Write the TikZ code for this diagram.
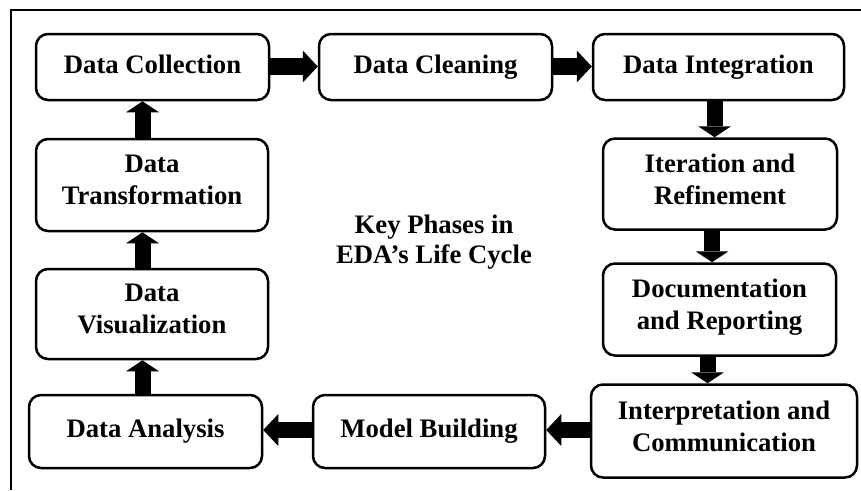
\documentclass[tikz,border=0pt]{standalone}
\usepackage{fontspec}
\setmainfont{Liberation Serif}
\usetikzlibrary{arrows.meta}
\begin{document}
\begin{tikzpicture}[x=1pt,y=-1pt,
  phase/.style={draw, line width=2.5pt, rounded corners=12pt, align=center,
    font=\bfseries\fontsize{26.7}{32}\selectfont, inner sep=0pt,
    execute at begin node=\strut, execute at end node=\strut},
  flow/.style={line width=16pt,
    -{Triangle[width=33pt,length=11pt,line width=0pt]}},
  sideflow/.style={line width=16pt,
    -{Triangle[width=32pt,length=15pt,line width=0pt]}}]
\useasboundingbox (0,0) rectangle (861,490);

% outer frame (top and left edges)
\draw[line width=2pt] (11,490) -- (11,10) -- (861,10);

% phases
\node[phase, minimum width=233pt, minimum height=66pt] (collect) at (152.5,67) {Data Collection};
\node[phase, minimum width=233pt, minimum height=66pt] (clean) at (435.5,67) {Data Cleaning};
\node[phase, minimum width=251pt, minimum height=66pt] (integ) at (718.5,67) {Data Integration};
\node[phase, minimum width=234pt, minimum height=91pt] (iter) at (720,184) {Iteration and\\Refinement};
\node[phase, minimum width=233pt, minimum height=92pt] (doc) at (719.5,309.5) {Documentation\\and Reporting};
\node[phase, minimum width=266pt, minimum height=93pt] (interp) at (724,431) {Interpretation and\\Communication};
\node[phase, minimum width=232pt, minimum height=73pt] (model) at (429,431.5) {Model Building};
\node[phase, minimum width=233pt, minimum height=73pt] (anal) at (145.5,431.5) {Data Analysis};
\node[phase, minimum width=232pt, minimum height=90pt] (vis) at (152,314) {Data\\Visualization};
\node[phase, minimum width=232pt, minimum height=92pt] (trans) at (152,185) {Data\\Transformation};

% centre caption
\node[align=center, inner sep=0pt, font=\bfseries\fontsize{26.7}{30}\selectfont] (title) at (434,242) {Key Phases in\\EDA’s Life Cycle};

% arrow lanes
\coordinate (lcol) at (142.5,0);
\coordinate (rcolA) at (714.5,0);
\coordinate (rcolB) at (712,0);
\coordinate (rcolC) at (707.5,0);
\coordinate (trow) at (0,66.5);
\coordinate (brow) at (0,430);

% flow of the cycle
\draw[sideflow, line width=17pt] (collect.east |- trow) -- (clean.west |- trow);
\draw[sideflow, line width=17pt] (clean.east |- trow) -- (integ.west |- trow);
\draw[flow] (integ.south -| rcolA) -- (iter.north -| rcolA);
\draw[flow] (iter.south -| rcolB) -- (doc.north -| rcolB);
\draw[flow] (doc.south -| rcolC) -- (interp.north -| rcolC);
\draw[sideflow] (interp.west |- brow) -- (model.east |- brow);
\draw[sideflow] (model.west |- brow) -- (anal.east |- brow);
\draw[flow] (anal.north -| lcol) -- (vis.south -| lcol);
\draw[flow] (vis.north -| lcol) -- (trans.south -| lcol);
\draw[flow] (trans.north -| lcol) -- (collect.south -| lcol);
\end{tikzpicture}
\end{document}
